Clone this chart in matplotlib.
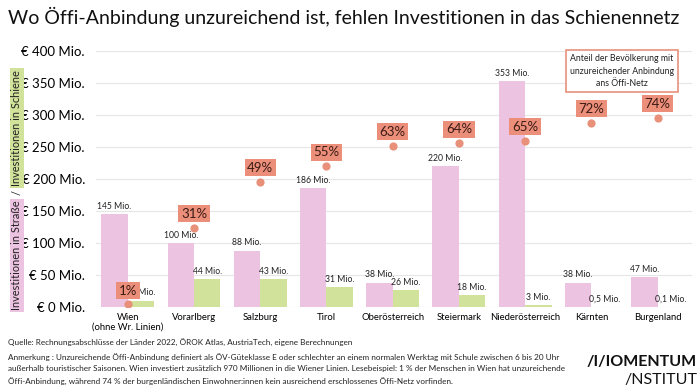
import matplotlib
matplotlib.use("Agg")
import matplotlib.pyplot as plt
import numpy as np

plt.rcParams["font.family"] = ["Lato", "DejaVu Sans"]

# data
laender = ["Wien\n(ohne Wr. Linien)", "Vorarlberg", "Salzburg", "Tirol", "Oberösterreich",
           "Steiermark", "Niederösterreich", "Kärnten", "Burgenland"]
strasse = [145, 100, 88, 186, 38, 220, 353, 38, 47]
schiene = [10, 44, 43, 31, 26, 18, 3, 0.5, 0.1]
schiene_labels = ["10 Mio.", "44 Mio.", "43 Mio.", "31 Mio.", "26 Mio.", "18 Mio.", "3 Mio.", "0,5 Mio.", "0,1 Mio."]
anteil = [1, 31, 49, 55, 63, 64, 65, 72, 74]  # % der Bevölkerung
yticks = [0, 50, 100, 150, 200, 250, 300, 350, 400]

pink = "#ecc3e0"
green = "#d1e29a"
salmon = "#e8907a"
salmon_box = "#eb8f7b"
dark = "#222222"

fig = plt.figure(figsize=(7, 3.91), dpi=100)
ax = fig.add_axes([96/700, 1-307/391, 596/700, 256/391])

x = np.arange(len(laender))
w = 0.4
ax.bar(x - w/2, strasse, width=w, color=pink, zorder=2)
ax.bar(x + w/2, schiene, width=w, color=green, zorder=2)

for i in range(len(laender)):
    ax.text(x[i] - w/2, strasse[i] + 5, f"{strasse[i]} Mio.", ha="center", va="bottom",
            fontsize=6.2, color=dark, zorder=3)
    ax.text(x[i] + w/2, schiene[i] + 5, schiene_labels[i], ha="center", va="bottom",
            fontsize=6.2, color=dark, zorder=3)

# Anteil in % auf zweiter Skala (0-100 % entspricht 0-400)
ax2 = ax.twinx()
ax2.set_ylim(0, 100)
ax2.axis("off")
ax2.scatter(x, anteil, s=24, color=salmon, zorder=4)
for i in range(len(laender)):
    ax2.annotate(f"{anteil[i]}%", (x[i], anteil[i]), xytext=(0, 10), textcoords="offset points",
                 ha="center", va="center", fontsize=9.5, color="#3a1a14", zorder=5,
                 bbox=dict(boxstyle="square,pad=0.2", fc=salmon_box, ec="none"))

ax.set_xlim(-0.48, 8.52)
ax.set_ylim(0, 400)
ax.set_yticks(yticks)
ax.set_yticklabels([f"€ {t} Mio." for t in yticks], fontsize=9.5)
ax.set_xticks(x)
ax.set_xticklabels(laender, fontsize=6.8)
ax.tick_params(length=0, pad=8)
ax.tick_params(axis="x", pad=4)
ax.grid(axis="y", color="#e6e6e6", linewidth=0.8, zorder=0)
for s in ax.spines.values():
    s.set_visible(False)

# Legende
fig.text(622/700, 1-71/391, "Anteil der Bevölkerung mit\nunzureichender Anbindung\nans Öffi-Netz",
         ha="center", va="center", fontsize=6.3, linespacing=1.45, color=dark,
         bbox=dict(boxstyle="square,pad=0.5", fc="white", ec=salmon, lw=1.2))

# Achsentitel zweifarbig
fig.text(17/700, 1-310/391, "Investitionen in Straße", rotation=90, rotation_mode="anchor",
         ha="left", va="center", fontsize=7.9, color=dark,
         bbox=dict(boxstyle="square,pad=0.15", fc=pink, ec="none"))
fig.text(17/700, 1-193/391, "/", rotation=90, rotation_mode="anchor",
         ha="center", va="center", fontsize=7.9, color=dark)
fig.text(17/700, 1-70/391, "Investitionen in Schiene", rotation=90, rotation_mode="anchor",
         ha="right", va="center", fontsize=7.9, color=dark,
         bbox=dict(boxstyle="square,pad=0.15", fc=green, ec="none"))

fig.text(8/700, 1-17/391, "Wo Öffi-Anbindung unzureichend ist, fehlen Investitionen in das Schienennetz",
         ha="left", va="center", fontsize=14, color="#111111")

fig.text(8/700, 1-342/391, "Quelle: Rechnungsabschlüsse der Länder 2022, ÖROK Atlas, AustriaTech, eigene Berechnungen",
         ha="left", va="center", fontsize=5.9, color=dark)
fig.text(8/700, 1-369/391,
         "Anmerkung : Unzureichende Öffi-Anbindung definiert als ÖV-Güteklasse E oder schlechter an einem normalen Werktag mit Schule zwischen 6 bis 20 Uhr\n"
         "außerhalb touristischer Saisonen. Wien investiert zusätzlich 970 Millionen in die Wiener Linien. Lesebeispiel: 1 % der Menschen in Wien hat unzureichende\n"
         "Öffi-Anbindung, während 74 % der burgenländischen Einwohner:innen kein ausreichend erschlossenes Öffi-Netz vorfinden.",
         ha="left", va="center", fontsize=5.9, linespacing=1.65, color=dark)

fig.text(697/700, 1-362/391, "/I/IOMENTUM", ha="right", va="center", fontsize=11.5,
         fontweight="bold", color="#111111")
fig.text(697/700, 1-380/391, "/NSTITUT", ha="right", va="center", fontsize=11.5, color="#111111")

fig.savefig("out.png", dpi=100)
